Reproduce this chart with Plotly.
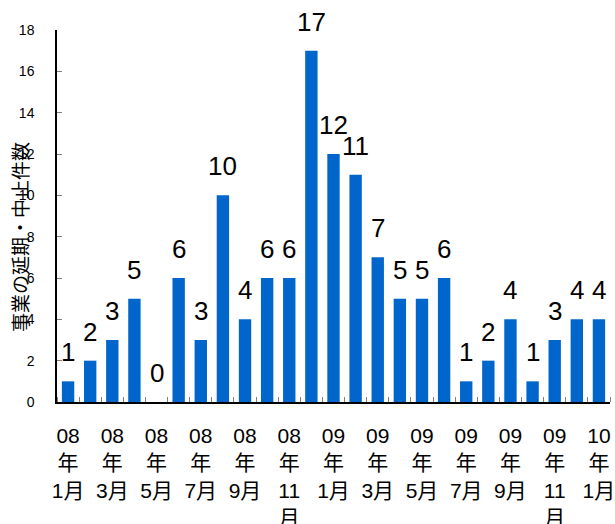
import plotly.graph_objects as go

years = ["08"] * 12 + ["09"] * 12 + ["10"]
months = list(range(1, 13)) * 2 + [1]
values = [1, 2, 3, 5, 0, 6, 3, 10, 4, 6, 6, 17, 12, 11, 7, 5, 5, 6, 1, 2, 4, 1, 3, 4, 4]
y_title = "事業の延期・中止件数"

n = len(values)
xs = list(range(n))
tick_idx = xs[::2]
ticktext = []
for i in tick_idx:
    m = months[i]
    mtxt = f"{m}月" if m < 10 else f"{m}<br>月"
    ticktext.append(f"{years[i]}<br>年<br>{mtxt}")

font_family = "Liberation Sans, Arial, Noto Sans CJK JP"

fig = go.Figure()
fig.add_trace(go.Bar(
    x=xs, y=values, marker=dict(color="#0066CC", line=dict(width=0)),
    width=0.56,
    hoverinfo="skip",
))

plot_w = 615 - 57 - 5
plot_h = 524 - 30 - 122

annotations = []
for i, v in zip(xs, values):
    annotations.append(dict(
        x=i, y=v, xref="x", yref="y", text=str(v), showarrow=False,
        yanchor="bottom", xanchor="center", yshift=12,
        font=dict(size=26, color="#000000", family=font_family),
    ))
annotations.append(dict(
    x=(22 - 57) / plot_w, y=(524 - 122 - 237) / plot_h,
    xref="paper", yref="paper", text=y_title, showarrow=False,
    textangle=-90, xanchor="center", yanchor="middle",
    font=dict(size=19, color="#000000", family=font_family),
))

fig.update_layout(
    width=615, height=524,
    margin=dict(l=57, r=5, t=30, b=122, autoexpand=False),
    paper_bgcolor="white", plot_bgcolor="white",
    showlegend=False,
    font=dict(family=font_family, color="#000000"),
    xaxis=dict(
        range=[-0.5, n - 0.5],
        tickmode="array", tickvals=tick_idx, ticktext=ticktext,
        ticks="", showgrid=False, zeroline=False, automargin=False,
        showline=True, linecolor="#000000", linewidth=1.5,
        tickfont=dict(size=21, color="#000000"),
        ticklabelstandoff=14, ticklabeloverflow="allow",
        minor=dict(ticks="inside", tick0=0.5, dtick=1, ticklen=5,
                   tickcolor="#808080", tickwidth=1, showgrid=False),
    ),
    yaxis=dict(
        range=[0, 18], tickmode="linear", tick0=0, dtick=2,
        ticks="inside", ticklen=5, tickcolor="#808080",
        showgrid=False, zeroline=False, automargin=False,
        showline=True, linecolor="#000000", linewidth=1.5,
        tickfont=dict(size=14, color="#000000"),
        ticklabelstandoff=18,
    ),
    annotations=annotations,
)

fig.write_html("out.html")
